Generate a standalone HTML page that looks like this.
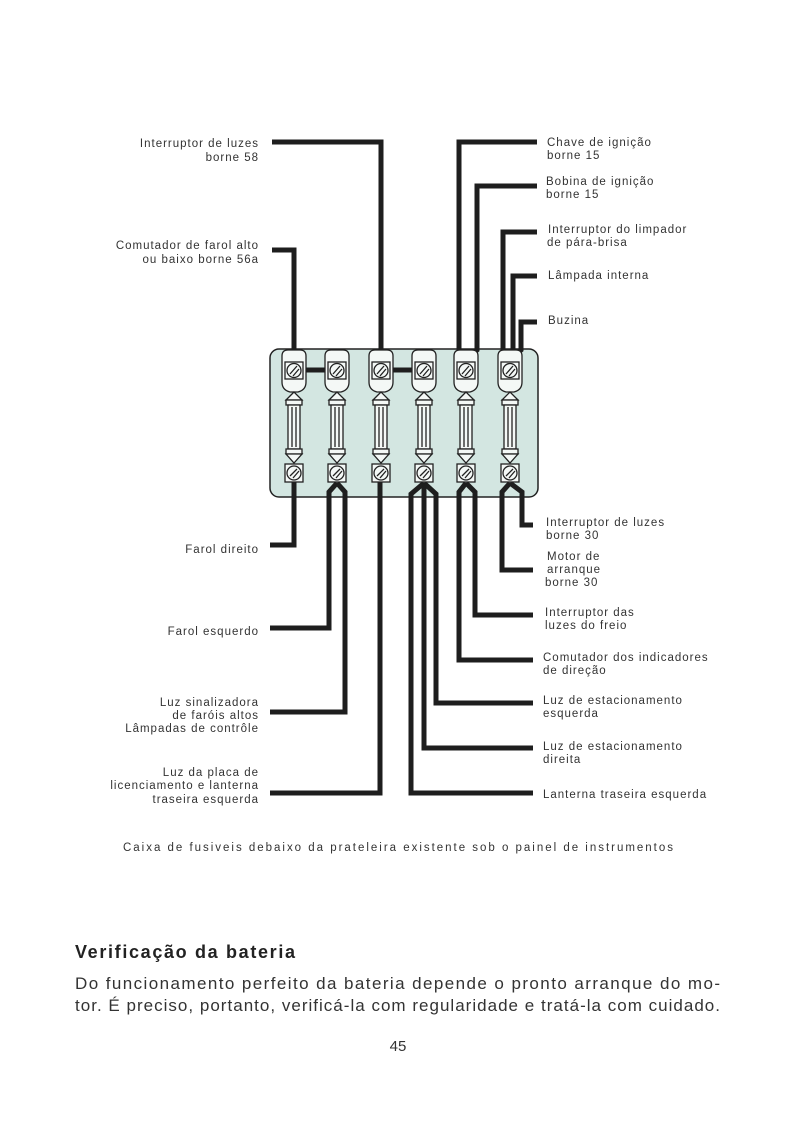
<!DOCTYPE html>
<html><head><meta charset="utf-8"><style>
html,body{margin:0;padding:0;background:#fff;}
svg{display:block;}
.l{font-family:"Liberation Sans",sans-serif;font-size:11.5px;letter-spacing:1px;fill:#333;}
.e{text-anchor:end;}
</style></head><body>
<svg width="792" height="1144" viewBox="0 0 792 1144" xmlns="http://www.w3.org/2000/svg">
<rect width="792" height="1144" fill="#fff"/>
<rect x="270" y="349" width="268" height="148" rx="9" fill="#d3e6e1" stroke="#222" stroke-width="1.5"/>
<g fill="none" stroke="#1e1e1e" stroke-width="5" stroke-linejoin="miter">
<polyline points="272,142 381,142 381,365"/>
<polyline points="272,250 294,250 294,365"/>
<polyline points="537,142 459,142 459,350 466,360"/>
<polyline points="537,186 477,186 477,350 466,360"/>
<polyline points="537,232 503,232 503,350 510,360"/>
<polyline points="537,276 513,276 513,352"/>
<polyline points="537,322 521,322 521,350 510,360"/>
<line x1="294" y1="370" x2="337" y2="370"/>
<line x1="381" y1="370" x2="424" y2="370"/>
<polyline points="294,478 294,545 270,545"/>
<polyline points="337,483 329,492 329,628 270,628"/>
<polyline points="337,483 345,492 345,712 270,712"/>
<polyline points="380,478 380,793 270,793"/>
<polyline points="424,483 411,494 411,793 533,793"/>
<polyline points="424,483 424,748 533,748"/>
<polyline points="424,483 436,494 436,703 533,703"/>
<polyline points="466,483 459,492 459,660 533,660"/>
<polyline points="466,483 475,492 475,615 533,615"/>
<polyline points="510,483 502,492 502,570 533,570"/>
<polyline points="510,483 522,492 522,525 533,525"/>
</g>
<g stroke="#222" stroke-width="1.3" fill="#f4f8f6">
<g transform="translate(294,0)"><path d="M-12,356 Q-12,350 -6,350 L6,350 Q12,350 12,356 L12,382 Q12,390 4,392 L-4,392 Q-12,390 -12,382Z"/><rect x="-9" y="362" width="18" height="17"/><circle cx="0" cy="370.5" r="7"/><path d="M-4,374 L3,366 M-1,376 L5,369" fill="none"/><path d="M0,392 L-8,400 L8,400Z"/><rect x="-8" y="400" width="16" height="5"/><rect x="-6" y="405" width="12" height="44"/><line x1="-2" y1="407" x2="-2" y2="447"/><line x1="2" y1="407" x2="2" y2="447"/><rect x="-8" y="449" width="16" height="5"/><path d="M-8,454 L8,454 L0,463Z"/><rect x="-9" y="464" width="18" height="18"/><circle cx="0" cy="473" r="7"/><path d="M-4,476 L3,469 M-1,478 L5,471" fill="none"/></g>
<g transform="translate(337,0)"><path d="M-12,356 Q-12,350 -6,350 L6,350 Q12,350 12,356 L12,382 Q12,390 4,392 L-4,392 Q-12,390 -12,382Z"/><rect x="-9" y="362" width="18" height="17"/><circle cx="0" cy="370.5" r="7"/><path d="M-4,374 L3,366 M-1,376 L5,369" fill="none"/><path d="M0,392 L-8,400 L8,400Z"/><rect x="-8" y="400" width="16" height="5"/><rect x="-6" y="405" width="12" height="44"/><line x1="-2" y1="407" x2="-2" y2="447"/><line x1="2" y1="407" x2="2" y2="447"/><rect x="-8" y="449" width="16" height="5"/><path d="M-8,454 L8,454 L0,463Z"/><rect x="-9" y="464" width="18" height="18"/><circle cx="0" cy="473" r="7"/><path d="M-4,476 L3,469 M-1,478 L5,471" fill="none"/></g>
<g transform="translate(381,0)"><path d="M-12,356 Q-12,350 -6,350 L6,350 Q12,350 12,356 L12,382 Q12,390 4,392 L-4,392 Q-12,390 -12,382Z"/><rect x="-9" y="362" width="18" height="17"/><circle cx="0" cy="370.5" r="7"/><path d="M-4,374 L3,366 M-1,376 L5,369" fill="none"/><path d="M0,392 L-8,400 L8,400Z"/><rect x="-8" y="400" width="16" height="5"/><rect x="-6" y="405" width="12" height="44"/><line x1="-2" y1="407" x2="-2" y2="447"/><line x1="2" y1="407" x2="2" y2="447"/><rect x="-8" y="449" width="16" height="5"/><path d="M-8,454 L8,454 L0,463Z"/><rect x="-9" y="464" width="18" height="18"/><circle cx="0" cy="473" r="7"/><path d="M-4,476 L3,469 M-1,478 L5,471" fill="none"/></g>
<g transform="translate(424,0)"><path d="M-12,356 Q-12,350 -6,350 L6,350 Q12,350 12,356 L12,382 Q12,390 4,392 L-4,392 Q-12,390 -12,382Z"/><rect x="-9" y="362" width="18" height="17"/><circle cx="0" cy="370.5" r="7"/><path d="M-4,374 L3,366 M-1,376 L5,369" fill="none"/><path d="M0,392 L-8,400 L8,400Z"/><rect x="-8" y="400" width="16" height="5"/><rect x="-6" y="405" width="12" height="44"/><line x1="-2" y1="407" x2="-2" y2="447"/><line x1="2" y1="407" x2="2" y2="447"/><rect x="-8" y="449" width="16" height="5"/><path d="M-8,454 L8,454 L0,463Z"/><rect x="-9" y="464" width="18" height="18"/><circle cx="0" cy="473" r="7"/><path d="M-4,476 L3,469 M-1,478 L5,471" fill="none"/></g>
<g transform="translate(466,0)"><path d="M-12,356 Q-12,350 -6,350 L6,350 Q12,350 12,356 L12,382 Q12,390 4,392 L-4,392 Q-12,390 -12,382Z"/><rect x="-9" y="362" width="18" height="17"/><circle cx="0" cy="370.5" r="7"/><path d="M-4,374 L3,366 M-1,376 L5,369" fill="none"/><path d="M0,392 L-8,400 L8,400Z"/><rect x="-8" y="400" width="16" height="5"/><rect x="-6" y="405" width="12" height="44"/><line x1="-2" y1="407" x2="-2" y2="447"/><line x1="2" y1="407" x2="2" y2="447"/><rect x="-8" y="449" width="16" height="5"/><path d="M-8,454 L8,454 L0,463Z"/><rect x="-9" y="464" width="18" height="18"/><circle cx="0" cy="473" r="7"/><path d="M-4,476 L3,469 M-1,478 L5,471" fill="none"/></g>
<g transform="translate(510,0)"><path d="M-12,356 Q-12,350 -6,350 L6,350 Q12,350 12,356 L12,382 Q12,390 4,392 L-4,392 Q-12,390 -12,382Z"/><rect x="-9" y="362" width="18" height="17"/><circle cx="0" cy="370.5" r="7"/><path d="M-4,374 L3,366 M-1,376 L5,369" fill="none"/><path d="M0,392 L-8,400 L8,400Z"/><rect x="-8" y="400" width="16" height="5"/><rect x="-6" y="405" width="12" height="44"/><line x1="-2" y1="407" x2="-2" y2="447"/><line x1="2" y1="407" x2="2" y2="447"/><rect x="-8" y="449" width="16" height="5"/><path d="M-8,454 L8,454 L0,463Z"/><rect x="-9" y="464" width="18" height="18"/><circle cx="0" cy="473" r="7"/><path d="M-4,476 L3,469 M-1,478 L5,471" fill="none"/></g>
</g>
<g class="l e">
<text x="259" y="147">Interruptor de luzes</text>
<text x="259" y="161">borne 58</text>
<text x="259" y="249">Comutador de farol alto</text>
<text x="259" y="263">ou baixo borne 56a</text>
<text x="259" y="553">Farol direito</text>
<text x="259" y="635">Farol esquerdo</text>
<text x="259" y="706">Luz sinalizadora</text>
<text x="259" y="719">de faróis altos</text>
<text x="259" y="732">Lâmpadas de contrôle</text>
<text x="259" y="776">Luz da placa de</text>
<text x="259" y="789">licenciamento e lanterna</text>
<text x="259" y="803">traseira esquerda</text>
</g>
<g class="l">
<text x="547" y="146">Chave de ignição</text>
<text x="547" y="159">borne 15</text>
<text x="546" y="185">Bobina de ignição</text>
<text x="546" y="198">borne 15</text>
<text x="548" y="233">Interruptor do limpador</text>
<text x="547" y="246">de pára-brisa</text>
<text x="548" y="279">Lâmpada interna</text>
<text x="548" y="324">Buzina</text>
<text x="546" y="526">Interruptor de luzes</text>
<text x="546" y="539">borne 30</text>
<text x="547" y="560">Motor de</text>
<text x="547" y="573">arranque</text>
<text x="545" y="586">borne 30</text>
<text x="545" y="616">Interruptor das</text>
<text x="545" y="629">luzes do freio</text>
<text x="543" y="661">Comutador dos indicadores</text>
<text x="543" y="674">de direção</text>
<text x="543" y="704">Luz de estacionamento</text>
<text x="543" y="717">esquerda</text>
<text x="543" y="750">Luz de estacionamento</text>
<text x="543" y="763">direita</text>
<text x="543" y="798">Lanterna traseira esquerda</text>
</g>
<text x="398" y="851" text-anchor="middle" class="l" style="font-size:11.5px;letter-spacing:0" textLength="550">Caixa de fusiveis debaixo da prateleira existente sob o painel de instrumentos</text>
<text x="75" y="958" textLength="220" style="font-family:'Liberation Sans',sans-serif;font-size:18px;font-weight:bold;fill:#222">Verificação da bateria</text>
<text x="75" y="989" textLength="645" style="font-family:'Liberation Sans',sans-serif;font-size:17px;fill:#333">Do funcionamento perfeito da bateria depende o pronto arranque do mo-</text>
<text x="75" y="1011" textLength="645" style="font-family:'Liberation Sans',sans-serif;font-size:17px;fill:#333">tor. É preciso, portanto, verificá-la com regularidade e tratá-la com cuidado.</text>
<text x="398" y="1051" text-anchor="middle" style="font-family:'Liberation Sans',sans-serif;font-size:15px;fill:#333">45</text>
</svg>
</body></html>
